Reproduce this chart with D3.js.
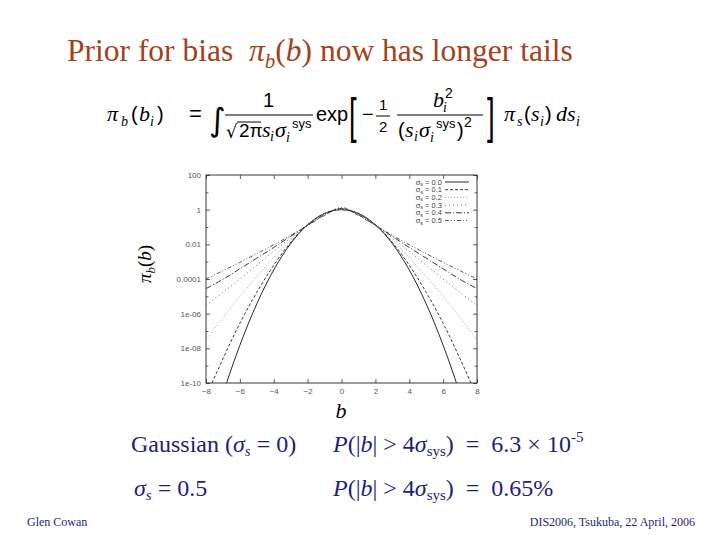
<!DOCTYPE html>
<html><head><meta charset="utf-8">
<script src="https://cdn.jsdelivr.net/npm/d3@7"></script>
<style>body{margin:0;background:#fff}svg{display:block}</style>
</head><body>
<script>
// ---- data ----
const bValues = [-8,-7,-6,-5,-4,-3,-2,-1,0,1,2,3,4,5,6,7,8];
const sigmaLabels = ["0.0","0.1","0.2","0.3","0.4","0.5"];
const pi_s00 = [1.3e-14,2.3e-11,1.5e-8,3.7e-6,3.35e-4,0.0111,0.135,0.607,1.0,0.607,0.135,0.0111,3.35e-4,3.7e-6,1.5e-8,2.3e-11,1.3e-14];
const pi_s01 = [1.6e-11,2.5e-9,2.8e-7,1.7e-5,6.2e-4,0.0131,0.134,0.60,1.01,0.60,0.134,0.0131,6.2e-4,1.7e-5,2.8e-7,2.5e-9,1.6e-11];
const pi_s02 = [3.0e-8,6.0e-7,9.8e-6,1.4e-4,1.7e-3,0.018,0.132,0.58,1.04,0.58,0.132,0.018,1.7e-3,1.4e-4,9.8e-6,6.0e-7,3.0e-8];
const pi_s03 = [3.0e-6,1.7e-5,1.0e-4,6.3e-4,4.0e-3,0.023,0.128,0.55,1.10,0.55,0.128,0.023,4.0e-3,6.3e-4,1.0e-4,1.7e-5,3.0e-6];
const pi_s04 = [2.8e-5,9.5e-5,3.9e-4,1.6e-3,6.6e-3,0.029,0.126,0.51,1.19,0.51,0.126,0.029,6.6e-3,1.6e-3,3.9e-4,9.5e-5,2.8e-5];
const pi_s05 = [1.0e-4,3.0e-4,9.1e-4,2.9e-3,9.5e-3,0.033,0.123,0.46,1.33,0.46,0.123,0.033,9.5e-3,2.9e-3,9.1e-4,3.0e-4,1.0e-4];
const xTickValues = [-8,-6,-4,-2,0,2,4,6,8];
const yTickValues = [100,1,0.01,1e-4,1e-6,1e-8,1e-10];
const yTickLabels = ["100","1","0.01","0.0001","1e-06","1e-08","1e-10"];
const yMinorValues = [10,0.1,1e-3,1e-5,1e-7,1e-9];

const series = [pi_s00,pi_s01,pi_s02,pi_s03,pi_s04,pi_s05];
const dashes = [null,"3,2","1,2","1,3","6,2,1,2","4,2,1,2,1,2"];
const strokes = ["#111","#222","#999","#555","#222","#444"];

const W=720,H=540;
const svg=d3.select("body").append("svg").attr("width",W).attr("height",H);
svg.append("rect").attr("width",W).attr("height",H).attr("fill","#fff");

const SERIF="'Liberation Serif','Times New Roman',serif";
const SANS="'Liberation Sans',Arial,sans-serif";
const TITLE_C="#a3421c", NAVY="#1e1e7c";
const NB="\u00a0";

function t(x,y,str,o={}){
  const e=svg.append("text").attr("x",x).attr("y",y).text(str)
    .attr("font-family",o.f||SANS).attr("font-size",o.s||20)
    .attr("fill",o.c||"#000");
  if(o.i) e.attr("font-style","italic");
  if(o.a) e.attr("text-anchor",o.a);
  if(o.tr) e.attr("transform",o.tr);
  return e;
}
function rich(x,y,parts,base){
  const e=svg.append("text").attr("x",x).attr("y",y)
    .attr("font-family",base.f).attr("font-size",base.s).attr("fill",base.c);
  if(base.a) e.attr("text-anchor",base.a);
  let cur=0;
  parts.forEach(p=>{
    const sp=e.append("tspan").text(p.t);
    const shift=(p.dy||0);
    sp.attr("dy",shift-cur); cur=shift;
    if(p.s) sp.attr("font-size",p.s);
    if(p.i) sp.attr("font-style","italic");
    if(p.dx) sp.attr("dx",p.dx);
  });
  return e;
}

// ---- title ----
rich(67,61,[
  {t:"Prior for bias"+NB+NB},{t:"π",i:1},{t:"b",i:1,s:21,dy:7},{t:"(",dy:0},{t:"b",i:1},{t:") now has longer tails"}
],{f:SERIF,s:31.5,c:TITLE_C});

// ---- formula ----
const MI={f:SERIF,i:1,s:22}, SUBI={f:SERIF,i:1,s:14};
t(107,121,"π",MI); t(121,126,"b",SUBI); t(131,121,"(",{s:20});
t(139,121,"b",MI); t(150,126,"i",SUBI); t(157,121,")",{s:20});
t(189,121,"=",{s:22});
t(209,131,"∫",{f:"'DejaVu Sans'",s:32});
// fraction 1 / (sqrt(2pi) s sigma)
t(263,107,"1",{s:20});
svg.append("line").attr("x1",225).attr("x2",313).attr("y1",115).attr("y2",115).attr("stroke","#000").attr("stroke-width",1.2);
t(226,138,"√",{f:"'DejaVu Sans'",s:18});
svg.append("line").attr("x1",237).attr("x2",261).attr("y1",122).attr("y2",122).attr("stroke","#000").attr("stroke-width",1);
t(239,137,"2π",{s:19}); t(262,137,"s",MI); t(270,141,"i",SUBI);
t(275,137,"σ",MI); t(286,142,"i",SUBI); t(292,128,"sys",{s:13});
t(316,121,"exp",{s:20});
t(349,133,"[",{s:50,tr:"translate(349,0) scale(0.55,1) translate(-349,0)"});
t(362,121,"−",{s:20});
t(379,110,"1",{s:15});
svg.append("line").attr("x1",376).attr("x2",390).attr("y1",116).attr("y2",116).attr("stroke","#000");
t(379,132,"2",{s:15});
t(433,107,"b",MI); t(443,112,"i",SUBI); t(445,98,"2",{s:14});
svg.append("line").attr("x1",397).attr("x2",483).attr("y1",115).attr("y2",115).attr("stroke","#000").attr("stroke-width",1.2);
t(398,137,"(",{s:20}); t(405,137,"s",MI); t(414,141,"i",SUBI);
t(419,137,"σ",MI); t(430,142,"i",SUBI); t(436,128,"sys",{s:13});
t(457,137,")",{s:20}); t(464,127,"2",{s:14});
t(487,133,"]",{s:50,tr:"translate(487,0) scale(0.55,1) translate(-487,0)"});
t(504,121,"π",MI); t(517,126,"s",SUBI); t(524,121,"(",{s:20});
t(531,121,"s",MI); t(540,126,"i",SUBI); t(545,121,")",{s:20});
t(556,121,"d",MI); t(567,121,"s",MI); t(576,126,"i",SUBI);

// ---- plot ----
const L=206,R=477,T=175,B=383;
const x=d3.scaleLinear().domain([-8,8]).range([L,R]);
const y=d3.scaleLog().domain([1e-10,100]).range([B,T]);

svg.append("defs").append("clipPath").attr("id","clip")
  .append("rect").attr("x",L).attr("y",T).attr("width",R-L).attr("height",B-T);

const TL=4;
function styleAxis(g){
  g.select(".domain").remove();
  g.selectAll("line").attr("stroke","#333").attr("stroke-width",0.8);
  g.selectAll("text").attr("font-family",SANS).attr("font-size",8).attr("fill","#555");
}
svg.append("g").attr("transform",`translate(${L},0)`)
  .call(d3.axisLeft(y).tickValues(yTickValues).tickFormat((d,i)=>yTickLabels[i]).tickSize(-TL).tickPadding(5)).call(styleAxis);
svg.append("g").attr("transform",`translate(${L},0)`)
  .call(d3.axisLeft(y).tickValues(yMinorValues).tickFormat("").tickSize(-TL*0.6)).call(styleAxis);
svg.append("g").attr("transform",`translate(${R},0)`)
  .call(d3.axisRight(y).tickValues(yTickValues).tickFormat("").tickSize(-TL)).call(styleAxis);
svg.append("g").attr("transform",`translate(${R},0)`)
  .call(d3.axisRight(y).tickValues(yMinorValues).tickFormat("").tickSize(-TL*0.6)).call(styleAxis);
svg.append("g").attr("transform",`translate(0,${B})`)
  .call(d3.axisBottom(x).tickValues(xTickValues).tickSize(-TL).tickPadding(5)).call(styleAxis);
svg.append("g").attr("transform",`translate(0,${T})`)
  .call(d3.axisTop(x).tickValues(xTickValues).tickFormat("").tickSize(-TL)).call(styleAxis);

svg.append("rect").attr("x",L).attr("y",T).attr("width",R-L).attr("height",B-T)
  .attr("fill","none").attr("stroke","#222").attr("stroke-width",0.9);

const line=d3.line().x((d,i)=>x(bValues[i])).y(d=>y(d)).curve(d3.curveCatmullRom.alpha(0.5));
const plot=svg.append("g").attr("clip-path","url(#clip)");
series.forEach((s,k)=>{
  plot.append("path").attr("d",line(s)).attr("fill","none")
    .attr("stroke",strokes[k]).attr("stroke-width",0.9)
    .attr("stroke-dasharray",dashes[k]);
});

// legend
sigmaLabels.forEach((lab,k)=>{
  const yy=182+k*7.7;
  rich(442,yy+2.5,[{t:"σ"},{t:"s",s:5.5,dy:1.5},{t:" = "+lab,dy:0}],{f:SANS,s:7.5,c:"#444",a:"end"});
  svg.append("line").attr("x1",445).attr("x2",469).attr("y1",yy).attr("y2",yy)
    .attr("stroke",strokes[k]).attr("stroke-width",0.9).attr("stroke-dasharray",dashes[k]);
});

// axis labels
rich(0,0,[{t:"π",i:1},{t:"b",i:1,s:13,dy:4},{t:"(",dy:0},{t:"b",i:1},{t:")"}],{f:SERIF,s:19,c:"#000",a:"middle"})
  .attr("transform","translate(151,264) rotate(-90)");
t(341,418,"b",{f:SERIF,i:1,s:22,a:"middle"});

// ---- bottom text ----
const BT={f:SERIF,s:24,c:NAVY};
rich(131,452,[{t:"Gaussian ("},{t:"σ",i:1},{t:"s",i:1,s:15,dy:4},{t:" = 0)",dy:0}],BT);
rich(333,452,[{t:"P",i:1},{t:"(|"},{t:"b",i:1},{t:"| > 4"},{t:"σ",i:1},{t:"sys",s:15,dy:4},{t:")"+NB+NB+"="+NB+NB+"6.3 × 10",dy:0},{t:"-5",s:15,dy:-10}],BT);
rich(134,496,[{t:"σ",i:1},{t:"s",i:1,s:15,dy:4},{t:" = 0.5",dy:0}],BT);
rich(333,496,[{t:"P",i:1},{t:"(|"},{t:"b",i:1},{t:"| > 4"},{t:"σ",i:1},{t:"sys",s:15,dy:4},{t:")"+NB+NB+"="+NB+NB+"0.65%",dy:0}],BT);

t(27,526,"Glen Cowan",{f:SERIF,s:12,c:NAVY});
t(695,526,"DIS2006, Tsukuba, 22 April, 2006",{f:SERIF,s:12,c:NAVY,a:"end"});
</script>
</body></html>
